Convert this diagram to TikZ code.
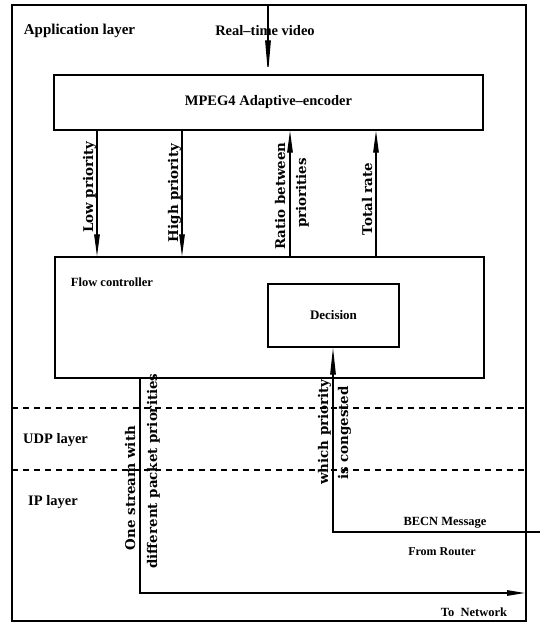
\documentclass[tikz,border=0pt]{standalone}
\usepackage{fontspec}
\setmainfont{Liberation Serif}
\newfontfamily\dvserif{DejaVu Serif}
\usetikzlibrary{arrows.meta}
\begin{document}
\begin{tikzpicture}[x=1pt,y=-1pt,
  box/.style={draw, line width=1.3pt, inner sep=0pt, anchor=center},
  arr/.style={-{Triangle[length=22pt,width=5.5pt]}, line width=1.2pt},
  hfont/.style={font=\bfseries\fontsize{#1}{#1}\selectfont, inner sep=0pt},
  vlab/.style={font=\dvserif\bfseries\fontsize{13.4}{15}\selectfont, rotate=90, anchor=base, inner sep=0pt},
  sepline/.style={dash pattern=on 6pt off 5pt, line width=1.1pt}]
\useasboundingbox (0,0) rectangle (540,624);
% outer frame
\node[box, line width=1.5pt, minimum width=514pt, minimum height=616pt] (frame) at (269,313) {};
% boxes
\node[box, hfont=14.5, minimum width=429pt, minimum height=55pt] (enc) at (268.5,102.5) {MPEG4 Adaptive–encoder};
\node[box, minimum width=429pt, minimum height=121pt] (flow) at (269.5,317.5) {};
\node[hfont=12.5] (flowtext) at (112,282) {Flow controller};
\node[box, hfont=13, minimum width=131pt, minimum height=63pt] (dec) at (333.5,315.5) {Decision};
% layer separators
\coordinate (s1l) at (12,408); \coordinate (s1r) at (526,408);
\coordinate (s2l) at (12,470); \coordinate (s2r) at (526,470);
\draw[sepline] (s1l) -- (s1r);
\draw[sepline] (s2l) -- (s2r);
% layer labels
\node[hfont=15] (applab) at (79.5,31) {Application layer};
\node[hfont=14.5] (udplab) at (55.5,440) {UDP layer};
\node[hfont=14.5] (iplab) at (53,502) {IP layer};
% real-time video
\node[hfont=14.5] (rtvlab) at (265,31) {Real–time video};
\coordinate (rtv) at (268,5);
\draw[line width=1.2pt, -{Triangle[length=34pt,width=5.5pt]}] (rtv) -- (rtv |- enc.north);
% encoder <-> flow controller
\coordinate (xlow) at (97,0);
\coordinate (xhigh) at (182,0);
\coordinate (xratio) at (290,0);
\coordinate (xtotal) at (376,0);
\draw[arr] (xlow |- enc.south) -- (xlow |- flow.north);
\draw[arr] (xhigh |- enc.south) -- (xhigh |- flow.north);
\draw[arr] (xratio |- flow.north) -- (xratio |- enc.south);
\draw[arr] (xtotal |- flow.north) -- (xtotal |- enc.south);
\node[vlab] (lowlab) at (93,187) {Low priority};
\node[vlab] (highlab) at (178,193) {High priority};
\node[vlab] (ratiolab) at (285,196) {Ratio between};
\node[vlab] (priolab) at (306,193) {priorities};
\node[vlab] (totallab) at (372,199) {Total rate};
% output stream to network
\coordinate (xstream) at (140,0);
\coordinate (corner) at (140,593);
\coordinate (net) at (525,593);
\draw[arr, -{Triangle[length=18pt,width=5.5pt]}] (xstream |- flow.south) -- (corner) -- (net);
\node[vlab] (onelab) at (135,488) {One stream with};
\node[vlab] (difflab) at (157,471) {different packet priorities};
\node[hfont=12.5] (netlab) at (474,612) {To\ \ Network};
% BECN feedback
\coordinate (becnR) at (540,532);
\coordinate (becnC) at (333,532);
\draw[line width=1.2pt, -{Triangle[length=27pt,width=5.5pt]}] (becnR) -- (becnC) -- (becnC |- dec.south);
\node[vlab] (whichlab) at (328,432) {which priority};
\node[vlab] (conglab) at (348,433) {is congested};
\node[hfont=12.5] (becnlab) at (445,523) {BECN Message};
\node[hfont=12] (routerlab) at (442,552) {From Router};
\end{tikzpicture}
\end{document}
